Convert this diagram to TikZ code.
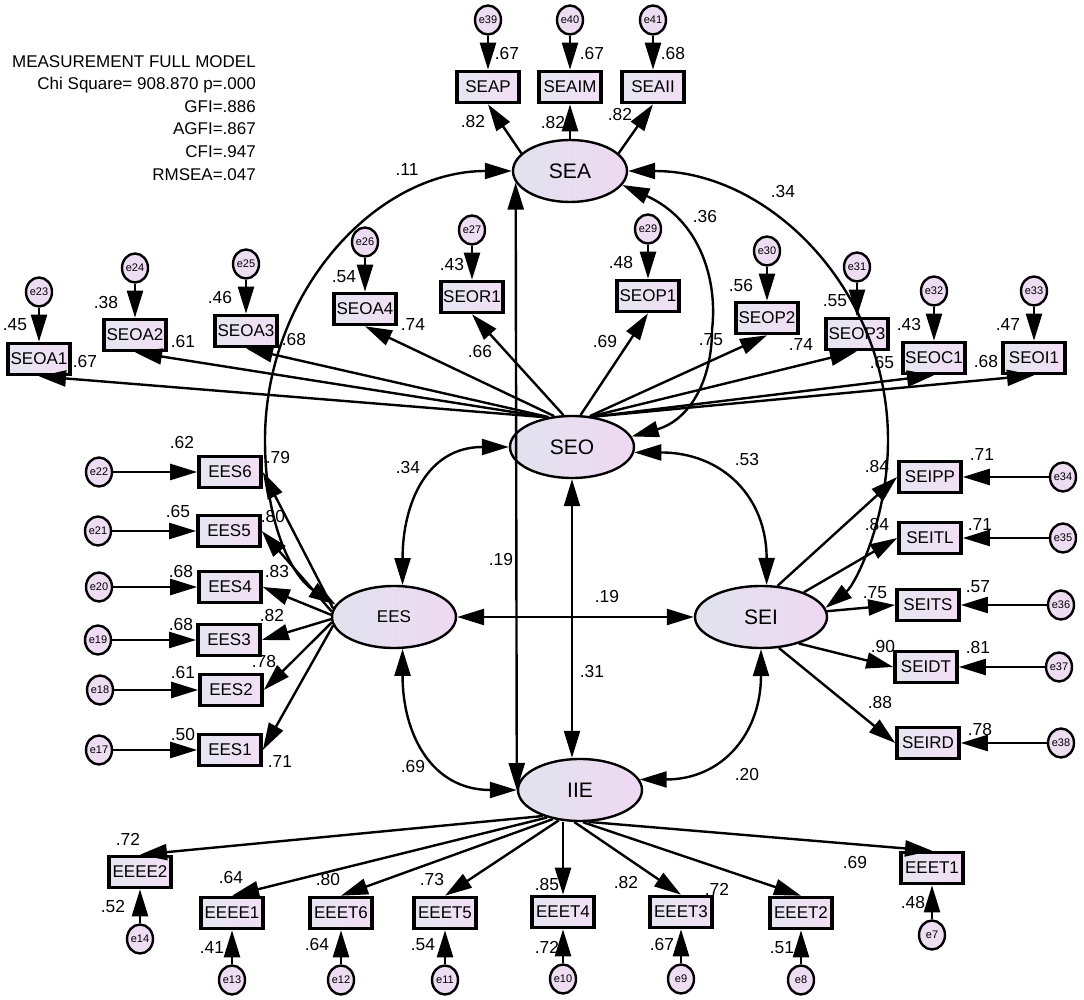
\documentclass[tikz,border=0pt]{standalone}
\usepackage{fontspec}
\setmainfont{Liberation Sans}
\usetikzlibrary{arrows.meta,positioning,shapes.geometric}

\definecolor{lvleft}{HTML}{E1E3EE}
\definecolor{lvright}{HTML}{EFD8F2}
\definecolor{boxleft}{HTML}{E5E6F1}
\definecolor{boxright}{HTML}{F2DEF4}
\definecolor{errfill}{HTML}{EEDCF3}

\begin{document}
\begin{tikzpicture}[x=0.5pt,y=-0.5pt,->,>={Triangle[length=13.5pt,width=8pt]},
	line width=1.2pt,node distance=17pt,
	latent node/.style={ellipse,draw,line width=1.2pt,left color=lvleft,right color=lvright,
		minimum width=62pt,minimum height=31pt,inner sep=0pt,font=\fontsize{10.5}{10.5}\selectfont},
	box node/.style={rectangle,draw,line width=1.8pt,left color=boxleft,right color=boxright,
		minimum width=31pt,minimum height=15.5pt,inner sep=1pt,font=\fontsize{8.5}{8.5}\selectfont},
	error node/.style={ellipse,draw,line width=1.2pt,fill=errfill,minimum width=13pt,
		minimum height=14.5pt,inner sep=0pt,font=\fontsize{5.5}{5.5}\selectfont},
	value/.style={inner sep=0pt,font=\fontsize{8.7}{8.7}\selectfont}]
	
	\useasboundingbox (0,0) rectangle (1084,1000);
	
	\node[value,align=right,anchor=north east,font=\fontsize{8.5}{11.3}\selectfont] (fit) at (257,54)
	{MEASUREMENT FULL MODEL\\Chi Square= 908.870 p=.000\\GFI=.886\\AGFI=.867\\CFI=.947\\RMSEA=.047};
	
	% latent variables
	\node[latent node,minimum width=57pt] (SEA) at (570,171) {SEA};
	\node[latent node] (SEO) at (572,447) {SEO};
	\node[latent node,font=\fontsize{8.5}{8.5}\selectfont] (EES) at (394,617) {EES};
	\node[latent node,minimum width=66pt] (SEI) at (761,617) {SEI};
	\node[latent node] (IIE) at (580,790) {IIE};
	
	% indicators
	\node[box node] (SEAP) at (488,87) {SEAP};
	\node[box node] (SEAIM) at (570,87) {SEAIM};
	\node[box node] (SEAII) at (653,87) {SEAII};
	
	\node[box node] (SEOA1) at (39,359) {SEOA1};
	\node[box node] (SEOA2) at (135,335) {SEOA2};
	\node[box node] (SEOA3) at (246,331) {SEOA3};
	\node[box node] (SEOA4) at (365,309) {SEOA4};
	\node[box node] (SEOR1) at (472,297) {SEOR1};
	\node[box node] (SEOP1) at (648,296) {SEOP1};
	\node[box node] (SEOP2) at (767,318) {SEOP2};
	\node[box node] (SEOP3) at (857,334) {SEOP3};
	\node[box node] (SEOC1) at (934,358) {SEOC1};
	\node[box node] (SEOI1) at (1034,358) {SEOI1};
	
	\node[box node] (EES6) at (230,472) {EES6};
	\node[box node] (EES5) at (229,531) {EES5};
	\node[box node] (EES4) at (230,587) {EES4};
	\node[box node] (EES3) at (229,640) {EES3};
	\node[box node] (EES2) at (231,690) {EES2};
	\node[box node] (EES1) at (230,750) {EES1};
	
	\node[box node] (SEIPP) at (930,477) {SEIPP};
	\node[box node] (SEITL) at (930,538) {SEITL};
	\node[box node] (SEITS) at (928,605) {SEITS};
	\node[box node] (SEIDT) at (926,667) {SEIDT};
	\node[box node] (SEIRD) at (928,743) {SEIRD};
	
	\node[box node] (EEEE2) at (140,872) {EEEE2};
	\node[box node] (EEEE1) at (232,913) {EEEE1};
	\node[box node] (EEET6) at (341,913) {EEET6};
	\node[box node] (EEET5) at (445,913) {EEET5};
	\node[box node] (EEET4) at (563,912) {EEET4};
	\node[box node] (EEET3) at (681,912) {EEET3};
	\node[box node] (EEET2) at (801,913) {EEET2};
	\node[box node] (EEET1) at (932,868) {EEET1};
	
	% error terms
	\node[error node] (e39) [above=of SEAP] {e39};
	\node[error node] (e40) [above=of SEAIM] {e40};
	\node[error node] (e41) [above=of SEAII] {e41};
	\node[error node] (e23) [above=of SEOA1] {e23};
	\node[error node] (e24) [above=of SEOA2] {e24};
	\node[error node] (e25) [above=of SEOA3] {e25};
	\node[error node] (e26) [above=of SEOA4] {e26};
	\node[error node] (e27) [above=of SEOR1] {e27};
	\node[error node] (e29) [above=of SEOP1] {e29};
	\node[error node] (e30) [above=of SEOP2] {e30};
	\node[error node] (e31) [above=of SEOP3] {e31};
	\node[error node] (e32) [above=of SEOC1] {e32};
	\node[error node] (e33) [above=of SEOI1] {e33};
	\node[error node] (e22) [left=42pt of EES6] {e22};
	\node[error node] (e21) [left=42pt of EES5] {e21};
	\node[error node] (e20) [left=42pt of EES4] {e20};
	\node[error node] (e19) [left=42pt of EES3] {e19};
	\node[error node] (e18) [left=42pt of EES2] {e18};
	\node[error node] (e17) [left=42pt of EES1] {e17};
	\node[error node] (e34) [right=43pt of SEIPP] {e34};
	\node[error node] (e35) [right=43pt of SEITL] {e35};
	\node[error node] (e36) [right=43pt of SEITS] {e36};
	\node[error node] (e37) [right=43pt of SEIDT] {e37};
	\node[error node] (e38) [right=43pt of SEIRD] {e38};
	\node[error node] (e14) [below=of EEEE2] {e14};
	\node[error node] (e13) [below=of EEEE1] {e13};
	\node[error node] (e12) [below=of EEET6] {e12};
	\node[error node] (e11) [below=of EEET5] {e11};
	\node[error node] (e10) [below=of EEET4] {e10};
	\node[error node] (e9) [below=of EEET3] {e9};
	\node[error node] (e8) [below=of EEET2] {e8};
	\node[error node] (e7) [below=of EEET1] {e7};
	
	% loadings
	\path
	(SEA.160) edge (SEAP.south)
	(SEA.north) edge (SEAIM.south)
	(SEA.20) edge (SEAII.south)
	(SEO.130) edge (SEOA1.south)
	(SEO.130) edge (SEOA2.south)
	(SEO.128) edge (SEOA3.south)
	(SEO.120) edge (SEOA4.south)
	(SEO.105) edge (SEOR1.south)
	(SEO.75) edge (SEOP1.south)
	(SEO.60) edge (SEOP2.south)
	(SEO.58) edge (SEOP3.south)
	(SEO.55) edge (SEOC1.south)
	(SEO.55) edge (SEOI1.south)
	(EES.172) edge (EES6.east)
	(EES.175) edge (EES5.east)
	(EES.178) edge (EES4.east)
	(EES.182) edge (EES3.east)
	(EES.185) edge (EES2.east)
	(EES.188) edge (EES1.east)
	(SEI.62) edge (SEIPP.west)
	(SEI.30) edge (SEITL.west)
	(SEI.5) edge (SEITS.west)
	(SEI.-35) edge (SEIDT.west)
	(SEI.-60) edge (SEIRD.west)
	(IIE.-145) edge (EEEE2.north)
	(IIE.-140) edge (EEEE1.north)
	(IIE.-133) edge (EEET6.north)
	(IIE.-125) edge (EEET5.north)
	(IIE.south -| EEET4.north) edge (EEET4.north)
	(IIE.-100) edge (EEET3.north)
	(IIE.-85) edge (EEET2.north)
	(IIE.-75) edge (EEET1.north);
	
	% error paths
	\path
	(e39) edge (SEAP) (e40) edge (SEAIM) (e41) edge (SEAII)
	(e23) edge (SEOA1) (e24) edge (SEOA2) (e25) edge (SEOA3) (e26) edge (SEOA4)
	(e27) edge (SEOR1) (e29) edge (SEOP1) (e30) edge (SEOP2) (e31) edge (SEOP3)
	(e32) edge (SEOC1) (e33) edge (SEOI1)
	(e22) edge (EES6) (e21) edge (EES5) (e20) edge (EES4)
	(e19) edge (EES3) (e18) edge (EES2) (e17) edge (EES1)
	(e34) edge (SEIPP) (e35) edge (SEITL) (e36) edge (SEITS)
	(e37) edge (SEIDT) (e38) edge (SEIRD)
	(e14) edge (EEEE2) (e13) edge (EEEE1) (e12) edge (EEET6) (e11) edge (EEET5)
	(e10) edge (EEET4) (e9) edge (EEET3) (e8) edge (EEET2) (e7) edge (EEET1);
	
	% covariances
	\draw[<->] (SEA.west) .. controls (376,171) and (265,292) .. (265,440)
	.. controls (265,520) and (290,575) .. (EES.168);
	\draw[<->] (SEA.east) .. controls (771,171) and (888,292) .. (888,440)
	.. controls (888,520) and (855,585) .. (SEI.8);
	\draw[<->] (SEA.-15) .. controls (700,220) and (718,280) .. (712,330)
	.. controls (712,380) and (690,420) .. (SEO.10);
	\draw[<->] (SEA.192) -- (IIE.west);
	\draw[<->] (SEO.west) to[out=180,in=90,looseness=1.2] (EES.75);
	\draw[<->] (SEO.-5) to[out=0,in=90,looseness=1.2] (SEI.80);
	\draw[<->] (EES.-75) to[out=-90,in=180,looseness=1.2] (IIE.west);
	\draw[<->] (IIE.10) to[out=0,in=-90,looseness=1.2] (SEI.south);
	\draw[<->] (EES) -- (SEI);
	\draw[<->] (SEO.south) -- (SEO.south |- IIE.north);
	
	% estimates
	\node[value] (rSEAP) at (507,54) {.67};
	\node[value] (rSEAIM) at (592,54) {.67};
	\node[value] (rSEAII) at (673,54) {.68};
	\node[value] (lSEAP) at (473,122) {.82};
	\node[value] (lSEAIM) at (553,123) {.82};
	\node[value] (lSEAII) at (620,115) {.82};
	
	\node[value] (rSEOA1) at (15,325) {.45};
	\node[value] (lSEOA1) at (85,362) {.67};
	\node[value] (rSEOA2) at (106,303) {.38};
	\node[value] (lSEOA2) at (183,342) {.61};
	\node[value] (rSEOA3) at (220,298) {.46};
	\node[value] (lSEOA3) at (294,340) {.68};
	\node[value] (rSEOA4) at (344,277) {.54};
	\node[value] (lSEOA4) at (413,325) {.74};
	\node[value] (rSEOR1) at (452,265) {.43};
	\node[value] (lSEOR1) at (480,352) {.66};
	\node[value] (rSEOP1) at (621,263) {.48};
	\node[value] (lSEOP1) at (605,342) {.69};
	\node[value] (rSEOP2) at (741,286) {.56};
	\node[value] (lSEOP2) at (711,340) {.75};
	\node[value] (rSEOP3) at (835,301) {.55};
	\node[value] (lSEOP3) at (801,345) {.74};
	\node[value] (rSEOC1) at (909,325) {.43};
	\node[value] (lSEOC1) at (882,363) {.65};
	\node[value] (rSEOI1) at (1008,325) {.47};
	\node[value] (lSEOI1) at (986,362) {.68};
	
	\node[value] (rEES6) at (182,443) {.62};
	\node[value] (lEES6) at (278,458) {.79};
	\node[value] (rEES5) at (178,512) {.65};
	\node[value] (lEES5) at (273,517) {.80};
	\node[value] (rEES4) at (181,572) {.68};
	\node[value] (lEES4) at (277,572) {.83};
	\node[value] (rEES3) at (181,625) {.68};
	\node[value] (lEES3) at (272,616) {.82};
	\node[value] (rEES2) at (183,673) {.61};
	\node[value] (lEES2) at (264,662) {.78};
	\node[value] (rEES1) at (183,735) {.50};
	\node[value] (lEES1) at (280,762) {.71};
	
	\node[value] (rSEIPP) at (982,455) {.71};
	\node[value] (lSEIPP) at (877,467) {.84};
	\node[value] (rSEITL) at (980,525) {.71};
	\node[value] (lSEITL) at (877,525) {.84};
	\node[value] (rSEITS) at (978,587) {.57};
	\node[value] (lSEITS) at (875,593) {.75};
	\node[value] (rSEIDT) at (978,648) {.81};
	\node[value] (lSEIDT) at (883,647) {.90};
	\node[value] (rSEIRD) at (980,730) {.78};
	\node[value] (lSEIRD) at (880,703) {.88};
	
	\node[value] (lEEEE2) at (128,839) {.72};
	\node[value] (rEEEE2) at (113,907) {.52};
	\node[value] (lEEEE1) at (231,878) {.64};
	\node[value] (rEEEE1) at (212,948) {.41};
	\node[value] (lEEET6) at (328,880) {.80};
	\node[value] (rEEET6) at (317,945) {.64};
	\node[value] (lEEET5) at (432,880) {.73};
	\node[value] (rEEET5) at (423,945) {.54};
	\node[value] (lEEET4) at (547,885) {.85};
	\node[value] (rEEET4) at (547,947) {.72};
	\node[value] (lEEET3) at (626,883) {.82};
	\node[value] (rEEET3) at (662,945) {.67};
	\node[value] (lEEET2) at (717,889) {.72};
	\node[value] (rEEET2) at (782,948) {.51};
	\node[value] (lEEET1) at (855,863) {.69};
	\node[value] (rEEET1) at (913,903) {.48};
	
	\node[value] (cSEAEES) at (407,170) {.11};
	\node[value] (cSEASEI) at (783,192) {.34};
	\node[value] (cSEASEO) at (705,217) {.36};
	\node[value] (cSEOEES) at (408,468) {.34};
	\node[value] (cSEOSEI) at (747,460) {.53};
	\node[value] (cSEAIIE) at (501,560) {.19};
	\node[value] (cEESSEI) at (607,597) {.19};
	\node[value] (cSEOIIE) at (592,672) {.31};
	\node[value] (cEESIIE) at (413,767) {.69};
	\node[value] (cIIESEI) at (747,775) {.20};
\end{tikzpicture}
\end{document}
